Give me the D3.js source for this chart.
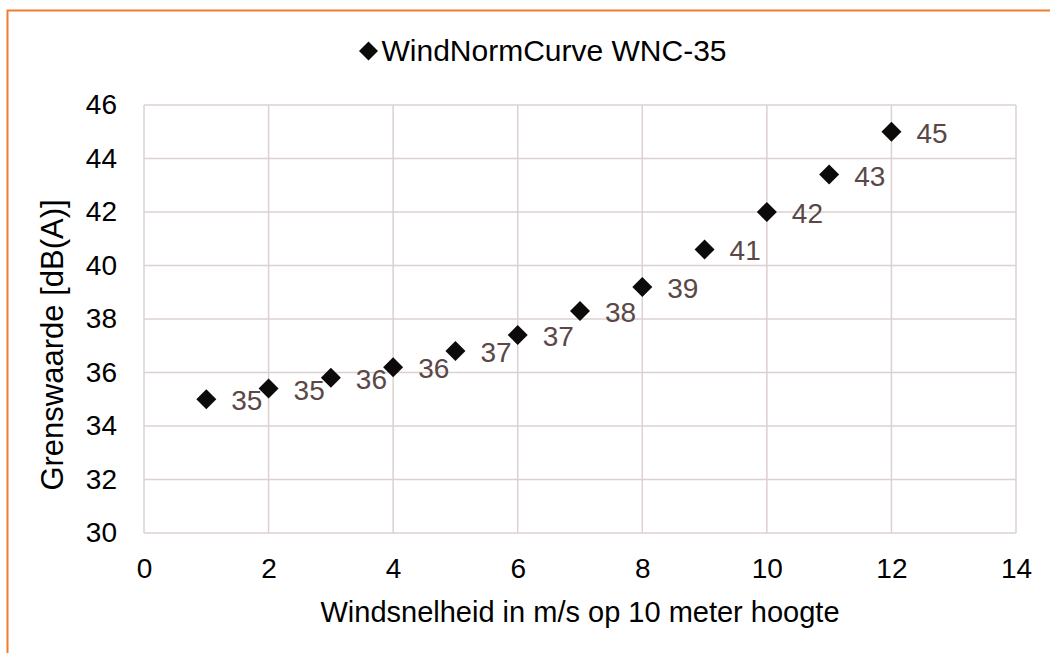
<!DOCTYPE html>
<html>
<head>
<meta charset="utf-8">
<script src="https://cdn.jsdelivr.net/npm/d3@7"></script>
<style>
  body { margin: 0; background: #fff; }
  svg { display: block; font-family: "Liberation Sans", Arial, sans-serif; }
</style>
</head>
<body>
<div id="chart"></div>
<script>
// Wind speed (m/s at 10 m) and limit value dB(A)
const windSpeeds = [1, 2, 3, 4, 5, 6, 7, 8, 9, 10, 11, 12];
const limitValues = [35, 35.4, 35.8, 36.2, 36.8, 37.4, 38.3, 39.2, 40.6, 42, 43.4, 45];
const xTicks = [0, 2, 4, 6, 8, 10, 12, 14];
const yTicks = [30, 32, 34, 36, 38, 40, 42, 44, 46];
const seriesName = "WindNormCurve WNC-35";

const width = 1050, height = 653;
const margin = { top: 105, right: 34, bottom: 120, left: 144 };
const gridColor = "#ddd0d0";
const labelColor = "#5a4848";

const svg = d3.select("#chart")
    .append("svg")
    .attr("width", width)
    .attr("height", height);

// orange chart frame (runs off the right/bottom edge)
svg.append("rect")
    .attr("x", 7.5)
    .attr("y", 10.5)
    .attr("width", width + 20)
    .attr("height", height + 20)
    .attr("fill", "none")
    .attr("stroke", "#ED7D31")
    .attr("stroke-width", 2);

const x = d3.scaleLinear().domain([0, 14]).range([margin.left, width - margin.right]);
const y = d3.scaleLinear().domain([30, 46]).range([height - margin.bottom, margin.top]);

// grid
const grid = svg.append("g");
grid.selectAll("line.v")
    .data(xTicks)
    .enter()
    .append("line")
    .attr("x1", d => x(d)).attr("x2", d => x(d))
    .attr("y1", y(30)).attr("y2", y(46))
    .attr("stroke", gridColor)
    .attr("stroke-width", 1.5);
grid.selectAll("line.h")
    .data(yTicks)
    .enter()
    .append("line")
    .attr("x1", x(0)).attr("x2", x(14))
    .attr("y1", d => y(d)).attr("y2", d => y(d))
    .attr("stroke", gridColor)
    .attr("stroke-width", 1.5);

// axes (labels only)
const xAxis = svg.append("g")
    .attr("transform", `translate(0, ${y(30)})`)
    .call(d3.axisBottom(x).tickValues(xTicks).tickSize(0).tickPadding(25));
const yAxis = svg.append("g")
    .attr("transform", `translate(${x(0)}, 0)`)
    .call(d3.axisLeft(y).tickValues(yTicks).tickSize(0).tickPadding(27));
[xAxis, yAxis].forEach(a => {
    a.select(".domain").remove();
    a.selectAll("text")
        .attr("font-family", "'Liberation Sans', Arial, sans-serif")
        .attr("font-size", "28px")
        .attr("fill", "#000");
});

// axis titles
svg.append("text")
    .attr("x", (x(0) + x(14)) / 2)
    .attr("y", 622)
    .attr("text-anchor", "middle")
    .attr("font-size", "29px")
    .attr("fill", "#000")
    .text("Windsnelheid in m/s op 10 meter hoogte");

svg.append("text")
    .attr("transform", `translate(63, 345) rotate(-90)`)
    .attr("text-anchor", "middle")
    .attr("font-size", "31px")
    .attr("fill", "#000")
    .text("Grenswaarde [dB(A)]");

// points
const diamond = d3.symbol().type(d3.symbolSquare).size(200);
const pts = windSpeeds.map((w, i) => ({ w, v: limitValues[i] }));

svg.selectAll("path.pt")
    .data(pts)
    .enter()
    .append("path")
    .attr("class", "pt")
    .attr("d", diamond)
    .attr("transform", d => `translate(${x(d.w)}, ${y(d.v)}) rotate(45)`)
    .attr("fill", "#0d0a0a");

// data labels
svg.selectAll("text.lbl")
    .data(pts)
    .enter()
    .append("text")
    .attr("class", "lbl")
    .attr("x", d => x(d.w) + 25)
    .attr("y", d => y(d.v) + 11)
    .attr("font-size", "28px")
    .attr("fill", labelColor)
    .text(d => Math.round(d.v));

// legend
const legend = svg.append("g").attr("transform", "translate(368.5, 51)");
legend.append("path")
    .attr("d", d3.symbol().type(d3.symbolSquare).size(180))
    .attr("transform", "rotate(45)")
    .attr("fill", "#0d0a0a");
legend.append("text")
    .attr("x", 13)
    .attr("y", 9.5)
    .attr("font-size", "30px")
    .attr("fill", "#000")
    .text(seriesName);
</script>
</body>
</html>
